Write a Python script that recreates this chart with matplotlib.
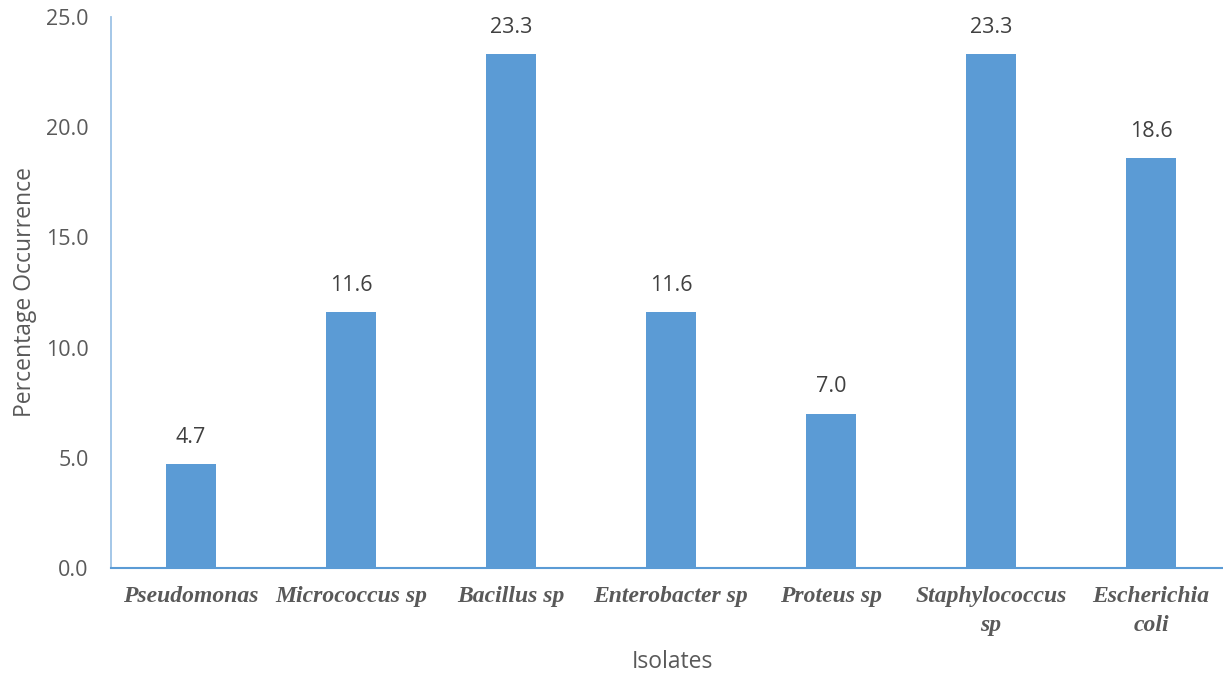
import matplotlib
matplotlib.use('Agg')
import matplotlib.pyplot as plt
import numpy as np

isolates = ['Pseudomonas', 'Micrococcus sp', 'Bacillus sp', 'Enterobacter sp',
            'Proteus sp', 'Staphylococcus\nsp', 'Escherichia\ncoli']
occurrence = [4.7, 11.6, 23.3, 11.6, 7.0, 23.3, 18.6]
yticks = [0, 5, 10, 15, 20, 25]

fig = plt.figure(figsize=(12.23, 6.79), dpi=100)
ax = fig.add_axes([111/1223, 111/679, 1120/1223, 551/679])

x = np.arange(len(isolates))
bars = ax.bar(x, occurrence, width=0.31, color='#5B9BD5', zorder=2)
for xi, v in zip(x, occurrence):
    ax.text(xi, v + 0.75, '%.1f' % v, ha='center', va='bottom',
            fontsize=15.5, color='#404040', family='Open Sans')

ax.set_xlim(-0.5, 6.5)
ax.set_ylim(0, 25)
ax.set_yticks(yticks)
ax.set_yticklabels(['%.1f' % t for t in yticks], fontsize=15.5,
                   color='#595959', family='Open Sans')
ax.set_xticks(x)
ax.set_xticklabels(isolates, fontsize=17, fontweight='bold', fontstyle='italic',
                   family='Liberation Serif', color='#595959', linespacing=1.5, va='top')
ax.tick_params(axis='both', length=0)
ax.tick_params(axis='y', pad=16)
ax.tick_params(axis='x', pad=13)

for s in ['top', 'right']:
    ax.spines[s].set_visible(False)
ax.spines['left'].set_color('#9DC3E6')
ax.spines['left'].set_linewidth(1.3)
ax.spines['bottom'].set_color('#5B9BD5')
ax.spines['bottom'].set_linewidth(1.5)

fig.text(25/1223, 1 - 292/679, 'Percentage Occurrence', rotation=90, ha='center',
         va='center', fontsize=16.5, color='#595959', family='Open Sans')
fig.text(672/1223, 1 - 662/679, 'Isolates', ha='center', va='center',
         fontsize=16.5, color='#595959', family='Open Sans')

fig.savefig('out.png', dpi=100)
